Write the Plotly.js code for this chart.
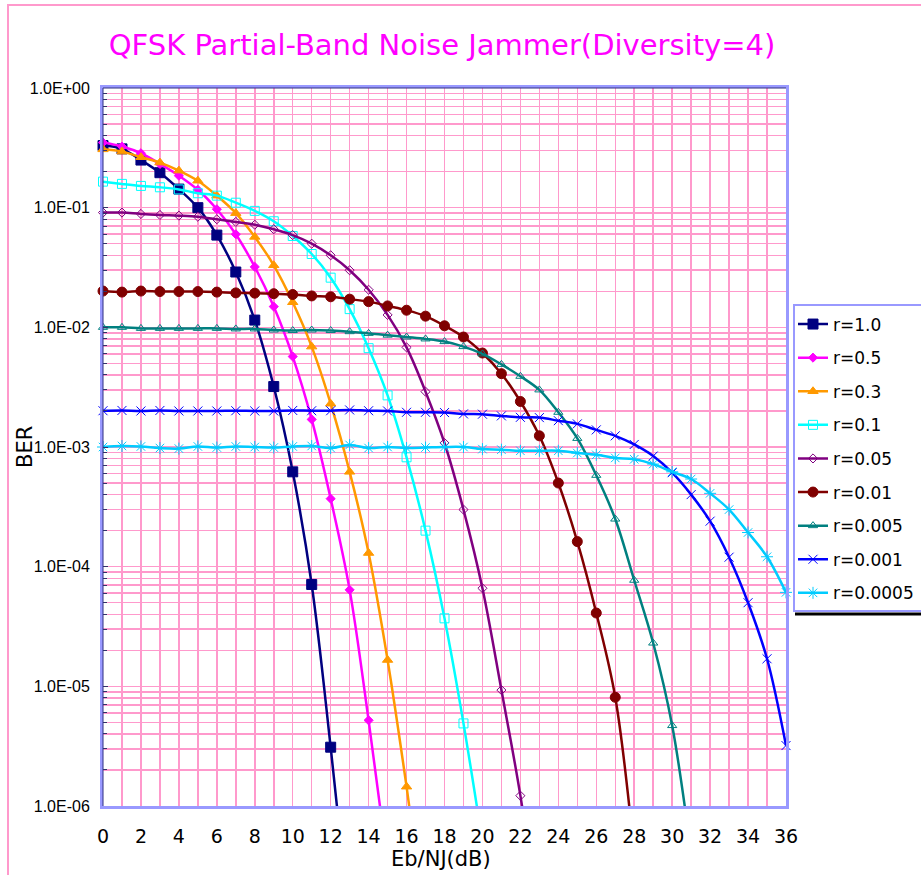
<!DOCTYPE html>
<html><head><meta charset="utf-8">
<script src="https://cdn.plot.ly/plotly-3.0.1.min.js"></script>
<style>
html,body{margin:0;padding:0;overflow:hidden;background:#fff;}
#chart{position:absolute;left:0;top:0;width:921px;height:875px;}
#frame{position:absolute;left:7px;top:4px;width:2000px;height:2000px;border-left:2px solid #FF99CC;border-top:2px solid #FF99CC;pointer-events:none;}
</style></head><body>
<div id="chart"></div><div id="frame"></div>
<script>
// Eb/NJ in dB (x values)
const ebnj = [0,1,2,3,4,5,6,7,8,9,10,11,12,13,14,15,16,17,18,19,20,21,22,23,24,25,26,27,28,29,30,31,32,33,34,35,36];

const seriesNames = ['r=1.0','r=0.5','r=0.3','r=0.1','r=0.05','r=0.01','r=0.005','r=0.001','r=0.0005'];

const ber_r1 = [0.33,0.31,0.25,0.196,0.143,0.100,0.059,0.029,0.0115,0.0032,0.00062,7.1e-5,3.1e-6,1e-7];
const ber_r05 = [0.35,0.324,0.285,0.232,0.185,0.141,0.097,0.060,0.032,0.0149,0.0057,0.0017,3.7e-4,6.4e-5,5.2e-6,3.3e-7];
const ber_r03 = [0.307,0.294,0.264,0.238,0.204,0.168,0.126,0.090,0.057,0.033,0.0162,0.0069,0.0023,6.2e-4,1.3e-4,1.66e-5,1.45e-6,1e-7];
const ber_r01 = [0.165,0.158,0.152,0.148,0.142,0.132,0.126,0.110,0.094,0.077,0.058,0.041,0.026,0.0142,0.0067,0.0027,8.2e-4,2.0e-4,3.7e-5,4.9e-6,5e-7];
const ber_r005 = [0.091,0.091,0.0886,0.0869,0.0858,0.084,0.080,0.076,0.072,0.066,0.059,0.050,0.040,0.030,0.0206,0.0127,0.0068,0.0029,0.00108,3.0e-4,6.6e-5,9.3e-6,1.22e-6,1e-7];
const ber_r001 = [0.0201,0.0197,0.0201,0.0199,0.0199,0.0199,0.0197,0.0194,0.0193,0.0191,0.0188,0.0183,0.0180,0.0172,0.0164,0.0151,0.0139,0.0124,0.0103,0.0083,0.0061,0.0041,0.0024,0.00124,5.0e-4,1.62e-4,4.1e-5,8.1e-6,4e-7];
const ber_r0005 = [0.0100,0.0100,0.0098,0.0098,0.0098,0.0098,0.0098,0.0097,0.0097,0.0095,0.0094,0.0095,0.0094,0.0092,0.0089,0.0086,0.0083,0.0080,0.0076,0.0069,0.0060,0.0049,0.0039,0.0030,0.00195,0.00118,5.8e-4,2.5e-4,7.7e-5,2.3e-5,4.7e-6,4e-7];
const ber_r0001 = [0.00201,0.00202,0.00200,0.00202,0.00200,0.00200,0.00200,0.00201,0.00200,0.00200,0.00202,0.00201,0.00201,0.00204,0.00201,0.00200,0.00195,0.00195,0.00194,0.00189,0.00188,0.00182,0.00177,0.00176,0.00166,0.00156,0.00139,0.00124,0.00105,8.4e-4,6.1e-4,4.0e-4,2.4e-4,1.2e-4,5.0e-5,1.7e-5,3.2e-6];
const ber_r00005 = [0.00100,0.00102,0.00101,0.00098,0.00097,0.00101,0.00099,0.00101,0.00100,0.00099,0.00101,0.00102,0.00098,0.00104,0.00098,0.00100,0.00098,0.00099,0.00100,0.00100,0.00096,0.00095,0.00093,0.00093,0.00093,0.00089,0.00086,0.00081,0.00079,7.2e-4,6.2e-4,5.4e-4,4.1e-4,3.0e-4,1.93e-4,1.21e-4,6.1e-5];

const yTickVals = [1,0.1,0.01,0.001,1e-4,1e-5,1e-6];
const yTickText = ['1.0E+00','1.0E-01','1.0E-02','1.0E-03','1.0E-04','1.0E-05','1.0E-06'];

const allSeries = [ber_r1,ber_r05,ber_r03,ber_r01,ber_r005,ber_r001,ber_r0005,ber_r0001,ber_r00005];
const colors = ['#000080','#FF00FF','#FF9900','#00FFFF','#800080','#800000','#008080','#0000FF','#00CCFF'];
const symbols = ['square','diamond','triangle-up','square-open','diamond-open','circle','triangle-up-open','x-thin-open','asterisk-open'];
const msizes = [10,7,9,9,7,10,8,9,10];

const FONT = 'DejaVu Sans, Verdana, sans-serif';
const TICKFONT = 'Liberation Sans, Arial, sans-serif';
const GRID = '#FF99CC';

const traces = allSeries.map((ys,i)=>({
  type:'scatter', mode:'lines+markers',
  name: seriesNames[i], legendgroup:'g'+i,
  x: ebnj.slice(0, ys.length), y: ys,
  line:{color:colors[i], width:2.5, shape:'spline', smoothing:1},
  marker:{symbol:symbols[i], size:msizes[i], color:colors[i], line:{color:colors[i], width:1}},
  cliponaxis:false
}));

const minorVals = [];
for (let k=-6;k<0;k++) for (let m=2;m<=9;m++) minorVals.push(m*Math.pow(10,k));

const px2x = p => (p-103)/683;
const px2y = p => (806-p)/718;

const layout = {
  width:921, height:875,
  paper_bgcolor:'rgba(0,0,0,0)', plot_bgcolor:'#FFFFFF',
  margin:{l:103, r:135, t:88, b:69, autoexpand:false},
  font:{family:FONT, color:'#000000'},
  title:{text:'QFSK Partial-Band Noise Jammer(Diversity=4)', font:{family:FONT, size:29, color:'#FF00FF'},
         x:442/921, xref:'container', xanchor:'center', y:1-45/875, yref:'container', yanchor:'middle'},
  xaxis:{range:[0,36], tickmode:'linear', tick0:0, dtick:2, ticks:'', ticklabelstandoff:11,
         tickfont:{family:FONT, size:19, color:'#000000'},
         showgrid:true, gridcolor:GRID, gridwidth:1.5, zeroline:false,
         minor:{dtick:1, showgrid:true, gridcolor:GRID, gridwidth:1.5},
         showline:true, linecolor:'#9999FF', linewidth:3, mirror:true},
  yaxis:{type:'log', range:[-6,0], tickmode:'array', tickvals:yTickVals, ticktext:yTickText,
         ticks:'inside', ticklen:5, tickcolor:'#333366', ticklabelstandoff:7,
         tickfont:{family:TICKFONT, size:16, color:'#000000'},
         showgrid:true, gridcolor:GRID, gridwidth:1.5, zeroline:false,
         minor:{tickmode:'array', tickvals:minorVals, ticks:'inside', ticklen:4, tickcolor:'#333366',
                showgrid:true, gridcolor:GRID, gridwidth:1.5},
         showline:true, linecolor:'#9999FF', linewidth:3, mirror:true},
  legend:{x:px2x(793), y:px2y(306.5), xanchor:'left', yanchor:'top', bgcolor:'rgba(0,0,0,0)',
          borderwidth:0, font:{family:FONT, size:17, color:'#000000'},
          tracegroupgap:8.5, itemwidth:30},
  showlegend:true,
  annotations:[
    {text:'BER', xref:'paper', yref:'paper', x:px2x(25), y:0.5, xanchor:'center', yanchor:'middle',
     textangle:-90, showarrow:false, font:{family:FONT, size:21, color:'#000000'}},
    {text:'Eb/NJ(dB)', xref:'paper', yref:'paper', x:px2x(441), y:px2y(859), xanchor:'center', yanchor:'middle',
     showarrow:false, font:{family:FONT, size:21, color:'#000000'}}
  ],
  shapes:[
    {type:'line', xref:'paper', yref:'paper', x0:0, x1:0, y0:0, y1:1, line:{color:'#2E2E80', width:1}, layer:'above'},
    {type:'line', xref:'paper', yref:'paper', x0:0, x1:1, y0:1, y1:1, line:{color:'#2E2E80', width:1}, layer:'above'},
    {type:'line', xref:'paper', yref:'paper', x0:px2x(795), x1:1.3, y0:px2y(614), y1:px2y(614), line:{color:'#000000', width:3}, layer:'above'},
    {type:'rect', xref:'paper', yref:'paper', x0:px2x(794), x1:1.3, y0:px2y(611), y1:px2y(305), fillcolor:'#FFFFFF', line:{color:'#9999FF', width:2}, layer:'above'}
  ]
};

Plotly.newPlot('chart', traces, layout, {displayModeBar:false, staticPlot:true});
</script>
</body></html>
